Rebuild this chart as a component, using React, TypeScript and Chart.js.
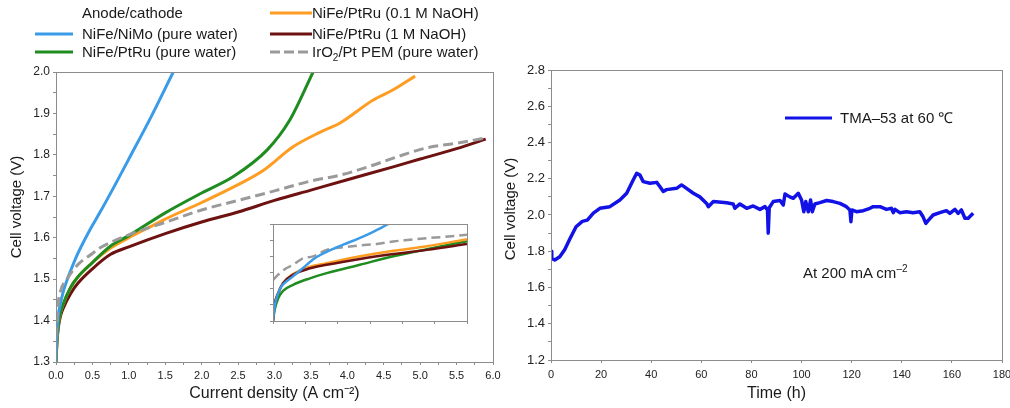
import React, { useEffect, useRef } from "react";
import { Chart, registerables } from "chart.js";

Chart.register(...registerables);

const FONT = "'Liberation Sans', Arial, Helvetica, sans-serif";
const AXIS = "#8c8c8c";
const TICK_TEXT = "#222222";
const TITLE_TEXT = "#1a1a1a";

const C_NIMO = "#3a9be8";
const C_PURE = "#1f8c1f";
const C_01 = "#ff9c22";
const C_1M = "#6e1111";
const C_PEM = "#9a9a9a";
const C_TMA = "#1212e6";

// ---------- Left panel: polarization curves (A cm^-2 vs V)
const niMoX = [0, 0.01, 0.03, 0.06, 0.1, 0.15, 0.2, 0.3, 0.45, 0.6, 0.8, 1.0, 1.3, 1.61];
const niMoY = [1.3, 1.36, 1.41, 1.44, 1.47, 1.497, 1.52, 1.562, 1.614, 1.66, 1.724, 1.79, 1.89, 2.0];

const ptRuPureX = [0, 0.02, 0.05, 0.1, 0.2, 0.3, 0.5, 0.75, 1.0, 1.5, 2.0, 2.43, 2.9, 3.21, 3.53];
const ptRuPureY = [1.3, 1.37, 1.41, 1.44, 1.48, 1.505, 1.54, 1.58, 1.605, 1.66, 1.708, 1.747, 1.812, 1.884, 2.0];

const ptRu01X = [0, 0.02, 0.05, 0.1, 0.2, 0.3, 0.5, 0.75, 1.0, 1.29, 1.5, 2.0, 2.5, 2.85, 3.25, 3.63, 3.9, 4.35, 4.63, 4.93];
const ptRu01Y = [1.3, 1.37, 1.41, 1.44, 1.48, 1.505, 1.54, 1.575, 1.6, 1.626, 1.645, 1.685, 1.728, 1.763, 1.819, 1.855, 1.877, 1.932, 1.957, 1.99];

const ptRu1MX = [0, 0.01, 0.03, 0.06, 0.1, 0.2, 0.3, 0.5, 0.75, 1.0, 1.5, 2.0, 2.5, 3.0, 3.5, 4.0, 4.63, 5.0, 5.5, 5.9];
const ptRu1MY = [1.3, 1.34, 1.38, 1.41, 1.43, 1.465, 1.49, 1.525, 1.56, 1.578, 1.61, 1.638, 1.662, 1.69, 1.715, 1.74, 1.771, 1.79, 1.815, 1.838];

const pemX = [0, 0.03, 0.06, 0.15, 0.3, 0.5, 0.6, 1.0, 1.5, 2.0, 2.5, 3.0, 3.5, 3.9, 4.3, 4.63, 5.09, 5.5, 5.88];
const pemY = [1.36, 1.44, 1.47, 1.5, 1.535, 1.562, 1.575, 1.607, 1.637, 1.667, 1.69, 1.713, 1.737, 1.751, 1.772, 1.792, 1.817, 1.828, 1.84];

// ---------- Inset (low current region)
const inNiMoX = [0, 0.003, 0.008, 0.016, 0.026, 0.041, 0.062, 0.093, 0.129, 0.166, 0.217, 0.269, 0.31, 0.357];
const inNiMoY = [1.3, 1.329, 1.36, 1.386, 1.407, 1.422, 1.438, 1.464, 1.494, 1.514, 1.536, 1.557, 1.576, 1.6];

const inPemX = [0, 0.021, 0.041, 0.062, 0.093, 0.124, 0.166, 0.217, 0.269, 0.321, 0.372, 0.424, 0.476, 0.528, 0.6];
const inPemY = [1.427, 1.448, 1.463, 1.474, 1.494, 1.5, 1.52, 1.528, 1.534, 1.538, 1.546, 1.551, 1.556, 1.56, 1.567];

const in1MX = [0, 0.005, 0.016, 0.031, 0.062, 0.114, 0.166, 0.269, 0.372, 0.476, 0.6];
const in1MY = [1.3, 1.35, 1.386, 1.417, 1.443, 1.463, 1.474, 1.492, 1.507, 1.52, 1.538];

const in01X = [0, 0.005, 0.016, 0.031, 0.062, 0.114, 0.166, 0.269, 0.372, 0.476, 0.6];
const in01Y = [1.3, 1.35, 1.386, 1.417, 1.445, 1.468, 1.479, 1.5, 1.517, 1.531, 1.553];

const inPureX = [0, 0.005, 0.016, 0.031, 0.062, 0.114, 0.166, 0.269, 0.372, 0.476, 0.6];
const inPureY = [1.3, 1.334, 1.37, 1.393, 1.412, 1.432, 1.448, 1.474, 1.5, 1.522, 1.547];

// ---------- Right panel: durability (h vs V)
const timeH = [0, 0.3, 1.5, 3.5, 5.5, 7.6, 10, 12.5, 14.5, 16.9, 19.5, 23.5, 27.5, 30.2, 32.8, 34.2, 35.5, 36.8, 39.5, 42.2, 43.5, 44.8, 46.1, 50.1, 52.1, 54.1, 56.8, 59.4, 62.1, 62.8, 64.8, 70.1, 72.7, 73.4, 75.4, 78.1, 80.7, 83.4, 85.4, 86.4, 86.7, 87.1, 88.7, 91.4, 92.7, 93.4, 95.3, 96.7, 98.7, 100, 100.9, 101.7, 102.7, 103.6, 104.3, 105.3, 107.3, 110, 112.6, 115.3, 117.9, 119.3, 119.7, 120.1, 121.9, 124.6, 127.3, 128.6, 131.3, 133.9, 135.9, 136.6, 137.3, 139.2, 141.9, 144.5, 147.2, 148.5, 149.6, 150.5, 152.5, 155.2, 157.8, 159.2, 161.2, 162.5, 163.8, 165.2, 166.5, 168.5];
const voltV = [1.8, 1.76, 1.752, 1.77, 1.81, 1.87, 1.935, 1.965, 1.972, 2.01, 2.037, 2.046, 2.083, 2.12, 2.193, 2.23, 2.22, 2.184, 2.175, 2.18, 2.156, 2.13, 2.14, 2.147, 2.166, 2.147, 2.12, 2.1, 2.064, 2.046, 2.074, 2.068, 2.061, 2.037, 2.061, 2.037, 2.05, 2.031, 2.046, 2.028, 1.9, 2.04, 2.074, 2.08, 2.055, 2.116, 2.1, 2.092, 2.12, 2.083, 2.018, 2.074, 2.018, 2.083, 2.018, 2.061, 2.068, 2.08, 2.074, 2.064, 2.046, 2.028, 1.963, 2.028, 2.018, 2.024, 2.037, 2.046, 2.046, 2.031, 2.037, 2.013, 2.031, 2.013, 2.018, 2.013, 2.018, 1.99, 1.954, 1.969, 2.0, 2.013, 2.024, 2.009, 2.031, 2.009, 2.028, 1.982, 1.982, 2.009];

const toXY = (xs: number[], ys: number[]) => xs.map((x, i) => ({ x, y: ys[i] }));
const isMult = (v: number, m: number) => Math.abs(v / m - Math.round(v / m)) < 1e-6;

const framePlugin = {
  id: "frame",
  beforeDraw(chart: any, _a: any, opts: any) {
    if (!opts || !opts.fill) return;
    const { ctx, chartArea: a } = chart;
    ctx.save();
    ctx.fillStyle = opts.fill;
    ctx.fillRect(a.left, a.top, a.right - a.left, a.bottom - a.top);
    ctx.restore();
  },
  afterDraw(chart: any) {
    const { ctx, chartArea: a } = chart;
    ctx.save();
    ctx.strokeStyle = AXIS;
    ctx.lineWidth = 1;
    ctx.strokeRect(Math.round(a.left) + 0.5, Math.round(a.top) + 0.5, Math.round(a.right - a.left), Math.round(a.bottom - a.top));
    ctx.restore();
  },
};

const yTitlePlugin = {
  id: "yTitle",
  afterDraw(chart: any, _a: any, opts: any) {
    if (!opts || !opts.text) return;
    const { ctx, chartArea: a } = chart;
    ctx.save();
    ctx.translate(opts.x, (a.top + a.bottom) / 2 + (opts.dy || 0));
    ctx.rotate(-Math.PI / 2);
    ctx.font = `15px ${FONT}`;
    ctx.fillStyle = TITLE_TEXT;
    ctx.textAlign = "center";
    ctx.textBaseline = "middle";
    ctx.fillText(opts.text, 0, 0);
    ctx.restore();
  },
};

const line = (data: any, color: string, width = 3, dash: number[] = []) => ({
  data,
  borderColor: color,
  backgroundColor: color,
  borderWidth: width,
  borderDash: dash,
  pointRadius: 0,
  fill: false,
  cubicInterpolationMode: "monotone" as const,
});

function makeAxis(opts: any) {
  return {
    type: "linear",
    min: opts.min,
    max: opts.max,
    border: { display: true, color: AXIS, width: 1 },
    grid: { display: true, drawOnChartArea: false, drawTicks: true, tickLength: 3, color: AXIS },
    ticks: {
      display: opts.showLabels !== false,
      stepSize: opts.step,
      autoSkip: false,
      maxRotation: 0,
      padding: opts.pad ?? 3,
      color: TICK_TEXT,
      font: { family: FONT, size: opts.fontSize ?? 11 },
      callback: opts.label,
    },
    title: opts.title
      ? { display: true, text: opts.title, color: TITLE_TEXT, font: { family: FONT, size: opts.titleSize ?? 15 }, padding: { top: 0, bottom: opts.titlePad ?? 6 } }
      : { display: false },
    afterFit: (s: any) => {
      if (opts.fitW !== undefined) s.width = opts.fitW;
      if (opts.fitH !== undefined) s.height = opts.fitH;
      s.paddingLeft = 0;
      s.paddingRight = 0;
      s.paddingTop = 0;
      s.paddingBottom = 0;
    },
  };
}

function useChart(ref: React.RefObject<HTMLCanvasElement>, build: () => any) {
  useEffect(() => {
    if (!ref.current) return;
    const chart = new Chart(ref.current, build());
    return () => chart.destroy();
  }, []);
}

export default function App() {
  const leftRef = useRef<HTMLCanvasElement>(null);
  const insetRef = useRef<HTMLCanvasElement>(null);
  const rightRef = useRef<HTMLCanvasElement>(null);

  useChart(leftRef, () => ({
    type: "line",
    data: {
      datasets: [
        line(toXY(pemX, pemY), C_PEM, 3, [10, 5]),
        line(toXY(niMoX, niMoY), C_NIMO),
        line(toXY(ptRuPureX, ptRuPureY), C_PURE),
        line(toXY(ptRu01X, ptRu01Y), C_01),
        line(toXY(ptRu1MX, ptRu1MY), C_1M),
      ],
    },
    options: {
      animation: false,
      responsive: false,
      maintainAspectRatio: false,
      layout: { padding: { left: 0, top: 72, right: 12, bottom: 0 } },
      plugins: {
        legend: { display: false },
        tooltip: { enabled: false },
        yTitle: { text: "Cell voltage (V)", x: 17, dy: -10 },
      },
      scales: {
        x: makeAxis({
          min: 0, max: 6, step: 0.25, pad: 4, fitH: 46, titlePad: 5, titleSize: 16,
          title: "Current density (A cm\u207B\u00B2)",
          label: (v: number) => (isMult(v, 0.5) ? v.toFixed(1) : ""),
        }),
        y: makeAxis({
          min: 1.3, max: 2.0, step: 0.05, pad: 3, fitW: 56, fontSize: 12,
          label: (v: number) => (isMult(v, 0.1) ? v.toFixed(1) : ""),
        }),
      },
    },
    plugins: [framePlugin, yTitlePlugin],
  }));

  useChart(insetRef, () => ({
    type: "line",
    data: {
      datasets: [
        line(toXY(inNiMoX, inNiMoY), C_NIMO, 2.5),
        line(toXY(inPemX, inPemY), C_PEM, 2.5, [9, 5]),
        line(toXY(in1MX, in1MY), C_1M, 2.5),
        line(toXY(in01X, in01Y), C_01, 2.5),
        line(toXY(inPureX, inPureY), C_PURE, 2.5),
      ],
    },
    options: {
      animation: false,
      responsive: false,
      maintainAspectRatio: false,
      layout: { padding: { left: 11, top: 9, right: 7, bottom: 6 } },
      plugins: { legend: { display: false }, tooltip: { enabled: false }, frame: { fill: "#ffffff" } },
      scales: {
        x: makeAxis({ min: 0, max: 0.6, step: 0.1, showLabels: false, fitH: 0, label: () => "" }),
        y: makeAxis({ min: 1.3, max: 1.6, step: 0.05, showLabels: false, fitW: 0, label: () => "" }),
      },
    },
    plugins: [framePlugin],
  }));

  useChart(rightRef, () => ({
    type: "line",
    data: {
      datasets: [
        {
          data: toXY(timeH, voltV),
          borderColor: C_TMA,
          backgroundColor: C_TMA,
          borderWidth: 3.5,
          pointRadius: 0,
          fill: false,
          tension: 0,
          borderJoinStyle: "round",
        },
      ],
    },
    options: {
      animation: false,
      responsive: false,
      maintainAspectRatio: false,
      layout: { padding: { left: 0, top: 70, right: 8, bottom: 0 } },
      plugins: {
        legend: { display: false },
        tooltip: { enabled: false },
        yTitle: { text: "Cell voltage (V)", x: 11, dy: -6 },
      },
      scales: {
        x: makeAxis({
          min: 0, max: 180, step: 20, pad: 5, fitH: 48, titlePad: 5, titleSize: 16,
          title: "Time (h)",
          label: (v: number) => String(Math.round(v)),
        }),
        y: makeAxis({
          min: 1.2, max: 2.8, step: 0.1, pad: 3, fitW: 51, fontSize: 13,
          label: (v: number) => (isMult(v, 0.2) ? v.toFixed(1) : ""),
        }),
      },
    },
    plugins: [framePlugin, yTitlePlugin],
  }));

  const txt: React.CSSProperties = {
    position: "absolute",
    fontFamily: FONT,
    fontSize: 15,
    lineHeight: "18px",
    color: TITLE_TEXT,
    whiteSpace: "nowrap",
  };
  const swatch = (left: number, cy: number, width: number, color: string, dash?: string) => (
    <svg style={{ position: "absolute", left, top: cy - 3 }} width={width} height={6}>
      <line x1={0} y1={3} x2={width} y2={3} stroke={color} strokeWidth={3} strokeDasharray={dash} />
    </svg>
  );

  return (
    <div style={{ position: "fixed", left: 0, top: 0, width: 1010, height: 408, background: "#fff", overflow: "hidden" }}>
      <canvas ref={leftRef} width={505} height={408} style={{ position: "absolute", left: 0, top: 0, width: 505, height: 408 }} />
      <canvas ref={insetRef} width={212} height={112} style={{ position: "absolute", left: 262, top: 215, width: 212, height: 112 }} />
      <canvas ref={rightRef} width={510} height={408} style={{ position: "absolute", left: 500, top: 0, width: 510, height: 408 }} />

      {/* left legend */}
      <div style={{ ...txt, left: 82, top: 4 }}>Anode/cathode</div>
      {swatch(35, 34, 38, C_NIMO)}
      <div style={{ ...txt, left: 82, top: 25 }}>NiFe/NiMo (pure water)</div>
      {swatch(35, 52, 38, C_PURE)}
      <div style={{ ...txt, left: 82, top: 43 }}>NiFe/PtRu (pure water)</div>
      {swatch(270, 13, 42, C_01)}
      <div style={{ ...txt, left: 312, top: 4 }}>NiFe/PtRu (0.1 M NaOH)</div>
      {swatch(270, 34, 42, C_1M)}
      <div style={{ ...txt, left: 312, top: 25 }}>NiFe/PtRu (1 M NaOH)</div>
      {swatch(270, 52, 42, C_PEM, "10 4")}
      <div style={{ ...txt, left: 312, top: 43 }}>
        IrO<sub style={{ fontSize: 10, lineHeight: 0 }}>2</sub>/Pt PEM (pure water)
      </div>

      {/* right legend + annotation */}
      {swatch(785, 118, 47, C_TMA)}
      <div style={{ ...txt, left: 840, top: 109 }}>TMA–53 at 60 ℃</div>
      <div style={{ ...txt, left: 803, top: 264 }}>
        At 200 mA cm<sup style={{ fontSize: 10, lineHeight: 0 }}>–2</sup>
      </div>
    </div>
  );
}
